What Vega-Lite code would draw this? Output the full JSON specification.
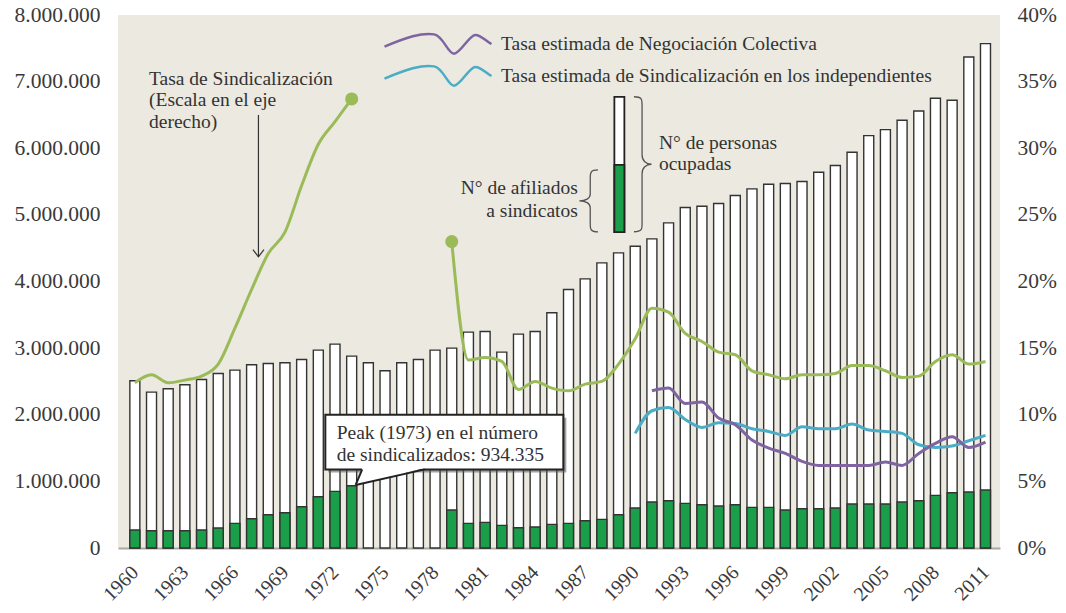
{
  "$schema": "https://vega.github.io/schema/vega-lite/v6.json",
  "width": 882,
  "height": 533,
  "autosize": {"type": "none"},
  "padding": {"left": 118, "top": 15, "right": 66, "bottom": 65},
  "background": "#ffffff",
  "config": {
    "font": "Liberation Serif",
    "view": {"fill": "#ebe9e0", "stroke": null},
    "axis": {"labelFont": "Liberation Serif", "labelColor": "#3a3a3a", "grid": false, "ticks": false, "domain": false}
  },
  "datasets": {
    "anual": [
      {"year": 1960, "ocupados": 2510000, "afiliados": 270000, "tasa": 12.4},
      {"year": 1961, "ocupados": 2340000, "afiliados": 260000, "tasa": 13.0},
      {"year": 1962, "ocupados": 2390000, "afiliados": 260000, "tasa": 12.4},
      {"year": 1963, "ocupados": 2450000, "afiliados": 260000, "tasa": 12.6},
      {"year": 1964, "ocupados": 2530000, "afiliados": 270000, "tasa": 12.9},
      {"year": 1965, "ocupados": 2620000, "afiliados": 300000, "tasa": 13.8},
      {"year": 1966, "ocupados": 2670000, "afiliados": 370000, "tasa": 16.5},
      {"year": 1967, "ocupados": 2750000, "afiliados": 440000, "tasa": 19.4},
      {"year": 1968, "ocupados": 2770000, "afiliados": 500000, "tasa": 22.1},
      {"year": 1969, "ocupados": 2780000, "afiliados": 530000, "tasa": 23.7},
      {"year": 1970, "ocupados": 2830000, "afiliados": 620000, "tasa": 27.2},
      {"year": 1971, "ocupados": 2970000, "afiliados": 770000, "tasa": 30.3},
      {"year": 1972, "ocupados": 3060000, "afiliados": 850000, "tasa": 32.0},
      {"year": 1973, "ocupados": 2880000, "afiliados": 934335, "tasa": 33.7},
      {"year": 1974, "ocupados": 2780000, "afiliados": null, "tasa": null},
      {"year": 1975, "ocupados": 2660000, "afiliados": null, "tasa": null},
      {"year": 1976, "ocupados": 2780000, "afiliados": null, "tasa": null},
      {"year": 1977, "ocupados": 2830000, "afiliados": null, "tasa": null},
      {"year": 1978, "ocupados": 2970000, "afiliados": null, "tasa": null},
      {"year": 1979, "ocupados": 3000000, "afiliados": 570000, "tasa": 23.0},
      {"year": 1980, "ocupados": 3240000, "afiliados": 370000, "tasa": 14.1},
      {"year": 1981, "ocupados": 3250000, "afiliados": 385000, "tasa": 14.3},
      {"year": 1982, "ocupados": 2940000, "afiliados": 340000, "tasa": 14.0},
      {"year": 1983, "ocupados": 3210000, "afiliados": 305000, "tasa": 11.9},
      {"year": 1984, "ocupados": 3250000, "afiliados": 315000, "tasa": 12.5},
      {"year": 1985, "ocupados": 3530000, "afiliados": 355000, "tasa": 12.0},
      {"year": 1986, "ocupados": 3880000, "afiliados": 370000, "tasa": 11.8},
      {"year": 1987, "ocupados": 4040000, "afiliados": 410000, "tasa": 12.3},
      {"year": 1988, "ocupados": 4280000, "afiliados": 430000, "tasa": 12.5},
      {"year": 1989, "ocupados": 4430000, "afiliados": 500000, "tasa": 13.8},
      {"year": 1990, "ocupados": 4530000, "afiliados": 600000, "tasa": 15.7, "indep": 8.6},
      {"year": 1991, "ocupados": 4640000, "afiliados": 690000, "tasa": 18.0, "negociacion": 11.8, "indep": 10.3},
      {"year": 1992, "ocupados": 4880000, "afiliados": 710000, "tasa": 17.7, "negociacion": 12.0, "indep": 10.55},
      {"year": 1993, "ocupados": 5110000, "afiliados": 670000, "tasa": 16.1, "negociacion": 10.85, "indep": 9.65},
      {"year": 1994, "ocupados": 5130000, "afiliados": 650000, "tasa": 15.5, "negociacion": 10.95, "indep": 9.05},
      {"year": 1995, "ocupados": 5170000, "afiliados": 630000, "tasa": 14.7, "negociacion": 9.75, "indep": 9.4},
      {"year": 1996, "ocupados": 5290000, "afiliados": 650000, "tasa": 14.5, "negociacion": 9.25, "indep": 9.35},
      {"year": 1997, "ocupados": 5390000, "afiliados": 610000, "tasa": 13.3, "negociacion": 8.1, "indep": 8.95},
      {"year": 1998, "ocupados": 5460000, "afiliados": 610000, "tasa": 13.0, "negociacion": 7.5, "indep": 8.75},
      {"year": 1999, "ocupados": 5470000, "afiliados": 570000, "tasa": 12.7, "negociacion": 7.1, "indep": 8.45},
      {"year": 2000, "ocupados": 5500000, "afiliados": 590000, "tasa": 13.0, "negociacion": 6.5, "indep": 9.1},
      {"year": 2001, "ocupados": 5640000, "afiliados": 590000, "tasa": 13.0, "negociacion": 6.2, "indep": 8.95},
      {"year": 2002, "ocupados": 5740000, "afiliados": 600000, "tasa": 13.1, "negociacion": 6.2, "indep": 8.95},
      {"year": 2003, "ocupados": 5940000, "afiliados": 660000, "tasa": 13.7, "negociacion": 6.2, "indep": 9.3},
      {"year": 2004, "ocupados": 6190000, "afiliados": 660000, "tasa": 13.7, "negociacion": 6.2, "indep": 8.85},
      {"year": 2005, "ocupados": 6280000, "afiliados": 660000, "tasa": 13.3, "negociacion": 6.45, "indep": 8.75},
      {"year": 2006, "ocupados": 6420000, "afiliados": 690000, "tasa": 12.8, "negociacion": 6.2, "indep": 8.6},
      {"year": 2007, "ocupados": 6560000, "afiliados": 710000, "tasa": 12.9, "negociacion": 7.1, "indep": 7.75},
      {"year": 2008, "ocupados": 6750000, "afiliados": 790000, "tasa": 14.0, "negociacion": 7.85, "indep": 7.55},
      {"year": 2009, "ocupados": 6720000, "afiliados": 830000, "tasa": 14.5, "negociacion": 8.35, "indep": 7.65},
      {"year": 2010, "ocupados": 7370000, "afiliados": 840000, "tasa": 13.8, "negociacion": 7.55, "indep": 8.05},
      {"year": 2011, "ocupados": 7570000, "afiliados": 870000, "tasa": 14.0, "negociacion": 7.95, "indep": 8.45}
    ]
  },
  "layer": [
    {
      "layer": [
        {
          "data": {"name": "anual"},
          "mark": {"type": "bar", "orient": "vertical", "width": 10, "fill": "#ffffff", "stroke": "#333333", "strokeWidth": 1.4},
          "encoding": {
            "x": {"field": "year", "type": "quantitative", "scale": {"domain": [1959.29, 2011.57], "nice": false, "zero": false},
              "axis": {"title": null, "values": [1960, 1963, 1966, 1969, 1972, 1975, 1978, 1981, 1984, 1987, 1990, 1993, 1996, 1999, 2002, 2005, 2008, 2011], "format": "d", "labelAngle": -45, "labelAlign": "right", "labelBaseline": "middle", "labelFontSize": 20, "labelPadding": 21, "labelFlush": false, "labelOverlap": false, "domain": true, "domainColor": "#a9a9a0", "domainWidth": 2}},
            "y": {"field": "ocupados", "type": "quantitative", "scale": {"domain": [0, 8000000], "nice": false},
              "axis": {"title": null, "orient": "left", "values": [0, 1000000, 2000000, 3000000, 4000000, 5000000, 6000000, 7000000, 8000000], "labelExpr": "replace(format(datum.value, ','), regexp(',', 'g'), '.')", "labelFontSize": 21.5, "labelPadding": 18}}
          }
        },
        {
          "data": {"name": "anual"},
          "transform": [{"filter": "datum.afiliados != null"}],
          "mark": {"type": "bar", "orient": "vertical", "width": 10, "fill": "#1a9e4a", "stroke": "#333333", "strokeWidth": 1.4},
          "encoding": {
            "x": {"field": "year", "type": "quantitative", "scale": {"domain": [1959.29, 2011.57], "nice": false, "zero": false}},
            "y": {"field": "afiliados", "type": "quantitative", "scale": {"domain": [0, 8000000], "nice": false}}
          }
        },
        {
          "data": {"values": [{"year": 1989.05, "base": 4740000, "tope": 6770000}]},
          "mark": {"type": "bar", "orient": "vertical", "width": 10, "fill": "#ffffff", "stroke": "#222222", "strokeWidth": 1.8},
          "encoding": {
            "x": {"field": "year", "type": "quantitative", "scale": {"domain": [1959.29, 2011.57], "nice": false, "zero": false}},
            "y": {"field": "base", "type": "quantitative", "scale": {"domain": [0, 8000000], "nice": false}},
            "y2": {"field": "tope"}
          }
        },
        {
          "data": {"values": [{"year": 1989.05, "base": 4740000, "tope": 5750000}]},
          "mark": {"type": "bar", "orient": "vertical", "width": 10, "fill": "#1a9e4a", "stroke": "#222222", "strokeWidth": 1.8},
          "encoding": {
            "x": {"field": "year", "type": "quantitative", "scale": {"domain": [1959.29, 2011.57], "nice": false, "zero": false}},
            "y": {"field": "base", "type": "quantitative", "scale": {"domain": [0, 8000000], "nice": false}},
            "y2": {"field": "tope"}
          }
        },
        {
          "data": {"values": [{"year": 1990.41, "y": 5760000}]},
          "mark": {"type": "point", "shape": "M-0.12,-1 C0,-1 0,-0.96 0,-0.88 L0,-0.14 C0,-0.05 0.06,0 0.14,0 C0.06,0 0,0.05 0,0.14 L0,0.88 C0,0.96 0,1 -0.12,1", "size": 18225, "filled": false, "stroke": "#555555", "strokeWidth": 1.3, "opacity": 1},
          "encoding": {
            "x": {"field": "year", "type": "quantitative", "scale": {"domain": [1959.29, 2011.57], "nice": false, "zero": false}},
            "y": {"field": "y", "type": "quantitative", "scale": {"domain": [0, 8000000], "nice": false}}
          }
        },
        {
          "data": {"values": [{"year": 1987.21, "y": 5210000}]},
          "mark": {"type": "point", "shape": "M0.3,-1 C0.05,-1 0.05,-0.9 0.05,-0.75 L0.05,-0.22 C0.05,-0.08 -0.1,0 -0.3,0 C-0.1,0 0.05,0.08 0.05,0.22 L0.05,0.75 C0.05,0.9 0.05,1 0.3,1", "size": 3844, "filled": false, "stroke": "#555555", "strokeWidth": 1.3, "opacity": 1},
          "encoding": {
            "x": {"field": "year", "type": "quantitative", "scale": {"domain": [1959.29, 2011.57], "nice": false, "zero": false}},
            "y": {"field": "y", "type": "quantitative", "scale": {"domain": [0, 8000000], "nice": false}}
          }
        },
        {
          "data": {"values": [{"x1": 1971.6, "x2": 1985.87, "y1": 1135000, "y2": 1955000}]},
          "mark": {"type": "rect", "fill": "#555555", "opacity": 0.55},
          "encoding": {
            "x": {"field": "x1", "type": "quantitative", "scale": {"domain": [1959.29, 2011.57], "nice": false, "zero": false}},
            "x2": {"field": "x2"},
            "y": {"field": "y1", "type": "quantitative", "scale": {"domain": [0, 8000000], "nice": false}},
            "y2": {"field": "y2"}
          }
        },
        {
          "data": {"values": [{"x1": 1971.42, "x2": 1985.69, "y1": 1180000, "y2": 2000000}]},
          "mark": {"type": "rect", "fill": "#ffffff", "stroke": "#222222", "strokeWidth": 2},
          "encoding": {
            "x": {"field": "x1", "type": "quantitative", "scale": {"domain": [1959.29, 2011.57], "nice": false, "zero": false}},
            "x2": {"field": "x2"},
            "y": {"field": "y1", "type": "quantitative", "scale": {"domain": [0, 8000000], "nice": false}},
            "y2": {"field": "y2"}
          }
        },
        {
          "data": {"values": [
            {"x": 1973.24, "lo": 946000, "hi": 946000},
            {"x": 1973.63, "lo": 968000, "hi": 1200000},
            {"x": 1977.38, "lo": 1200000, "hi": 1200000}
          ]},
          "mark": {"type": "area", "fill": "#ffffff", "orient": "vertical"},
          "encoding": {
            "x": {"field": "x", "type": "quantitative", "scale": {"domain": [1959.29, 2011.57], "nice": false, "zero": false}},
            "y": {"field": "lo", "type": "quantitative", "scale": {"domain": [0, 8000000], "nice": false}},
            "y2": {"field": "hi"}
          }
        },
        {
          "data": {"values": [
            {"x": 1973.24, "y": 946000, "borde": "a"},
            {"x": 1977.38, "y": 1180000, "borde": "a"},
            {"x": 1973.24, "y": 946000, "borde": "b"},
            {"x": 1973.63, "y": 1180000, "borde": "b"}
          ]},
          "mark": {"type": "line", "stroke": "#222222", "strokeWidth": 2},
          "encoding": {
            "x": {"field": "x", "type": "quantitative", "scale": {"domain": [1959.29, 2011.57], "nice": false, "zero": false}},
            "y": {"field": "y", "type": "quantitative", "scale": {"domain": [0, 8000000], "nice": false}},
            "detail": {"field": "borde", "type": "nominal"}
          }
        },
        {
          "data": {"values": [{"year": 1967.41, "y1": 6500000, "y2": 4370000}]},
          "mark": {"type": "rule", "stroke": "#333333", "strokeWidth": 1.2},
          "encoding": {
            "x": {"field": "year", "type": "quantitative", "scale": {"domain": [1959.29, 2011.57], "nice": false, "zero": false}},
            "y": {"field": "y1", "type": "quantitative", "scale": {"domain": [0, 8000000], "nice": false}},
            "y2": {"field": "y2"}
          }
        },
        {
          "data": {"values": [{"year": 1967.41, "y": 4370000}]},
          "mark": {"type": "point", "shape": "M-1,-1.3 L0,0 L1,-1.3", "size": 121, "filled": false, "stroke": "#333333", "strokeWidth": 1.2, "opacity": 1},
          "encoding": {
            "x": {"field": "year", "type": "quantitative", "scale": {"domain": [1959.29, 2011.57], "nice": false, "zero": false}},
            "y": {"field": "y", "type": "quantitative", "scale": {"domain": [0, 8000000], "nice": false}}
          }
        },
        {
          "data": {"values": [
            {"year": 1960.85, "y": 6950000, "texto": "Tasa de Sindicalización\n(Escala en el eje\nderecho)"},
            {"year": 1991.42, "y": 5990000, "texto": "N° de personas\nocupadas"},
            {"year": 1972.1, "y": 1630000, "texto": "Peak (1973) en el número\nde sindicalizados: 934.335"}
          ]},
          "mark": {"type": "text", "align": "left", "baseline": "alphabetic", "lineBreak": "\n", "lineHeight": 21.5, "font": "Liberation Serif", "fontSize": 19.5, "fill": "#333333"},
          "encoding": {
            "x": {"field": "year", "type": "quantitative", "scale": {"domain": [1959.29, 2011.57], "nice": false, "zero": false}},
            "y": {"field": "y", "type": "quantitative", "scale": {"domain": [0, 8000000], "nice": false}},
            "text": {"field": "texto", "type": "nominal"}
          }
        },
        {
          "data": {"values": [
            {"year": 1986.56, "y": 5310000, "texto": "N° de afiliados\na sindicatos"}
          ]},
          "mark": {"type": "text", "align": "right", "baseline": "alphabetic", "lineBreak": "\n", "lineHeight": 23, "font": "Liberation Serif", "fontSize": 19.5, "fill": "#333333"},
          "encoding": {
            "x": {"field": "year", "type": "quantitative", "scale": {"domain": [1959.29, 2011.57], "nice": false, "zero": false}},
            "y": {"field": "y", "type": "quantitative", "scale": {"domain": [0, 8000000], "nice": false}},
            "text": {"field": "texto", "type": "nominal"}
          }
        }
      ]
    },
    {
      "layer": [
        {
          "data": {"name": "anual"},
          "transform": [{"filter": "datum.year <= 1973"}],
          "mark": {"type": "line", "stroke": "#9bbb59", "strokeWidth": 3, "interpolate": "monotone"},
          "encoding": {
            "x": {"field": "year", "type": "quantitative", "scale": {"domain": [1959.29, 2011.57], "nice": false, "zero": false}},
            "y": {"field": "tasa", "type": "quantitative", "scale": {"domain": [0, 40], "nice": false},
              "axis": {"title": null, "orient": "right", "values": [0, 5, 10, 15, 20, 25, 30, 35, 40], "labelExpr": "datum.value + '%'", "labelFontSize": 21.5, "labelPadding": 17}}
          }
        },
        {
          "data": {"name": "anual"},
          "transform": [{"filter": "datum.year >= 1979"}],
          "mark": {"type": "line", "stroke": "#9bbb59", "strokeWidth": 3, "interpolate": "monotone"},
          "encoding": {
            "x": {"field": "year", "type": "quantitative", "scale": {"domain": [1959.29, 2011.57], "nice": false, "zero": false}},
            "y": {"field": "tasa", "type": "quantitative", "scale": {"domain": [0, 40], "nice": false}}
          }
        },
        {
          "data": {"name": "anual"},
          "transform": [{"filter": "datum.year == 1973 || datum.year == 1979"}],
          "mark": {"type": "point", "filled": true, "fill": "#9bbb59", "size": 170, "opacity": 1},
          "encoding": {
            "x": {"field": "year", "type": "quantitative", "scale": {"domain": [1959.29, 2011.57], "nice": false, "zero": false}},
            "y": {"field": "tasa", "type": "quantitative", "scale": {"domain": [0, 40], "nice": false}}
          }
        },
        {
          "data": {"name": "anual"},
          "transform": [
            {"fold": ["negociacion", "indep"], "as": ["serie", "valor"]},
            {"filter": "datum.valor != null"}
          ],
          "mark": {"type": "line", "strokeWidth": 3, "interpolate": "monotone"},
          "encoding": {
            "x": {"field": "year", "type": "quantitative", "scale": {"domain": [1959.29, 2011.57], "nice": false, "zero": false}},
            "y": {"field": "valor", "type": "quantitative", "scale": {"domain": [0, 40], "nice": false}},
            "color": {"field": "serie", "type": "nominal",
              "scale": {"domain": ["negociacion", "indep"], "range": ["#8064a2", "#4bacc6"]},
              "legend": {"title": null, "orient": "none", "legendX": 265, "legendY": 16, "padding": 0,
                "symbolType": "M-1,0.05 C-0.6,-0.12 -0.3,-0.22 -0.07,-0.18 C0.1,-0.15 0.18,0.18 0.3,0.18 C0.42,0.18 0.58,-0.17 0.7,-0.17 C0.8,-0.17 0.9,-0.05 1,0",
                "symbolSize": 11449, "symbolStrokeWidth": 2.5, "symbolFillColor": "transparent", "clipHeight": 26, "rowPadding": 6, "labelOffset": 8,
                "labelFont": "Liberation Serif", "labelFontSize": 19.5, "labelColor": "#333333", "labelLimit": 700,
                "labelExpr": "datum.label == 'negociacion' ? 'Tasa estimada de Negociación Colectiva' : 'Tasa estimada de Sindicalización en los independientes'"}}
          }
        }
      ]
    }
  ],
  "resolve": {"scale": {"y": "independent"}}
}
